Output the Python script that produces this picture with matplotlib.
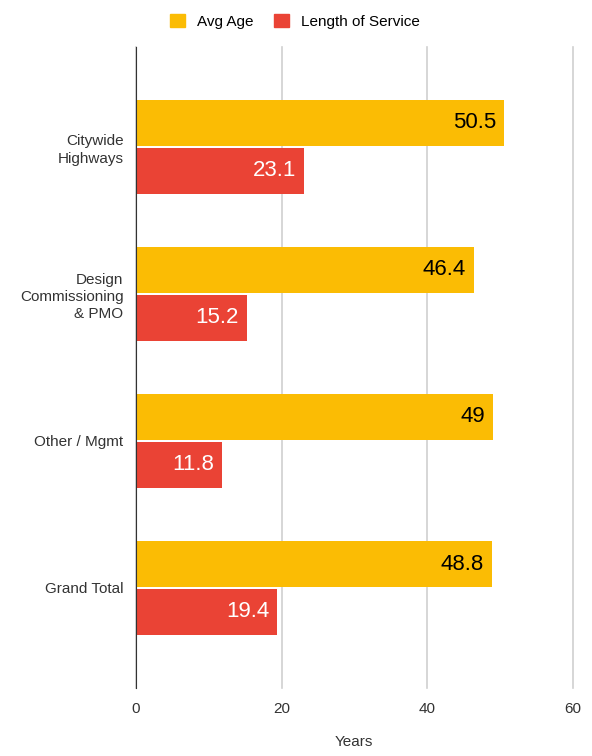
import matplotlib.pyplot as plt
import numpy as np
from matplotlib.patches import Patch

plt.rcParams['font.family'] = ['Liberation Sans', 'DejaVu Sans']

categories = ["Citywide\nHighways", "Design\nCommissioning\n& PMO", "Other / Mgmt", "Grand Total"]
avg_age = [50.5, 46.4, 49, 48.8]
length_of_service = [23.1, 15.2, 11.8, 19.4]

yellow = "#FBBC04"
red = "#EA4335"

fig = plt.figure(figsize=(5.92, 7.56), dpi=100)
ax = fig.add_axes([0.2297, 0.090, 0.7385, 0.848])

y = np.arange(len(categories))
h = 0.31
off = 0.163
b1 = ax.barh(y - off, avg_age, height=h, color=yellow, zorder=3)
b2 = ax.barh(y + off, length_of_service, height=h, color=red, zorder=3)

for bar, v in zip(b1, avg_age):
    ax.text(v - 1.1, bar.get_y() + bar.get_height() / 2, f"{v:g}",
            ha="right", va="center", fontsize=16, color="black", zorder=4)
for bar, v in zip(b2, length_of_service):
    ax.text(v - 1.1, bar.get_y() + bar.get_height() / 2, f"{v:g}",
            ha="right", va="center", fontsize=16, color="white", zorder=4)

ax.set_xlim(0, 60)
ax.set_ylim(3.68, -0.68)
ax.set_xticks([0, 20, 40, 60])
ax.set_yticks(y)
ax.set_yticklabels(categories, linespacing=1.3)
ax.tick_params(axis="both", length=0, labelsize=11, colors="#333333")
ax.tick_params(axis="x", pad=10)
ax.tick_params(axis="y", pad=9)
ax.grid(axis="x", color="#d0d0d0", linewidth=1.2, zorder=0)
for line in ax.get_xgridlines():
    line.set_clip_on(False)
for s in ["top", "right", "bottom"]:
    ax.spines[s].set_visible(False)
ax.spines["left"].set_color("#333333")
ax.spines["left"].set_zorder(5)

# axis title sits close to the bottom edge
fig.text(0.598, 0.019, "Years", fontsize=11, color="#333333", ha="center", va="center")

handles = [Patch(color=yellow, label="Avg Age"), Patch(color=red, label="Length of Service")]
fig.legend(handles=handles, loc="upper center", bbox_to_anchor=(0.498, 1.0), ncol=2,
           frameon=False, fontsize=11, handlelength=1.0, handleheight=1.0,
           handletextpad=0.8, columnspacing=1.3)

fig.savefig("out.png", dpi=100, facecolor="white")
